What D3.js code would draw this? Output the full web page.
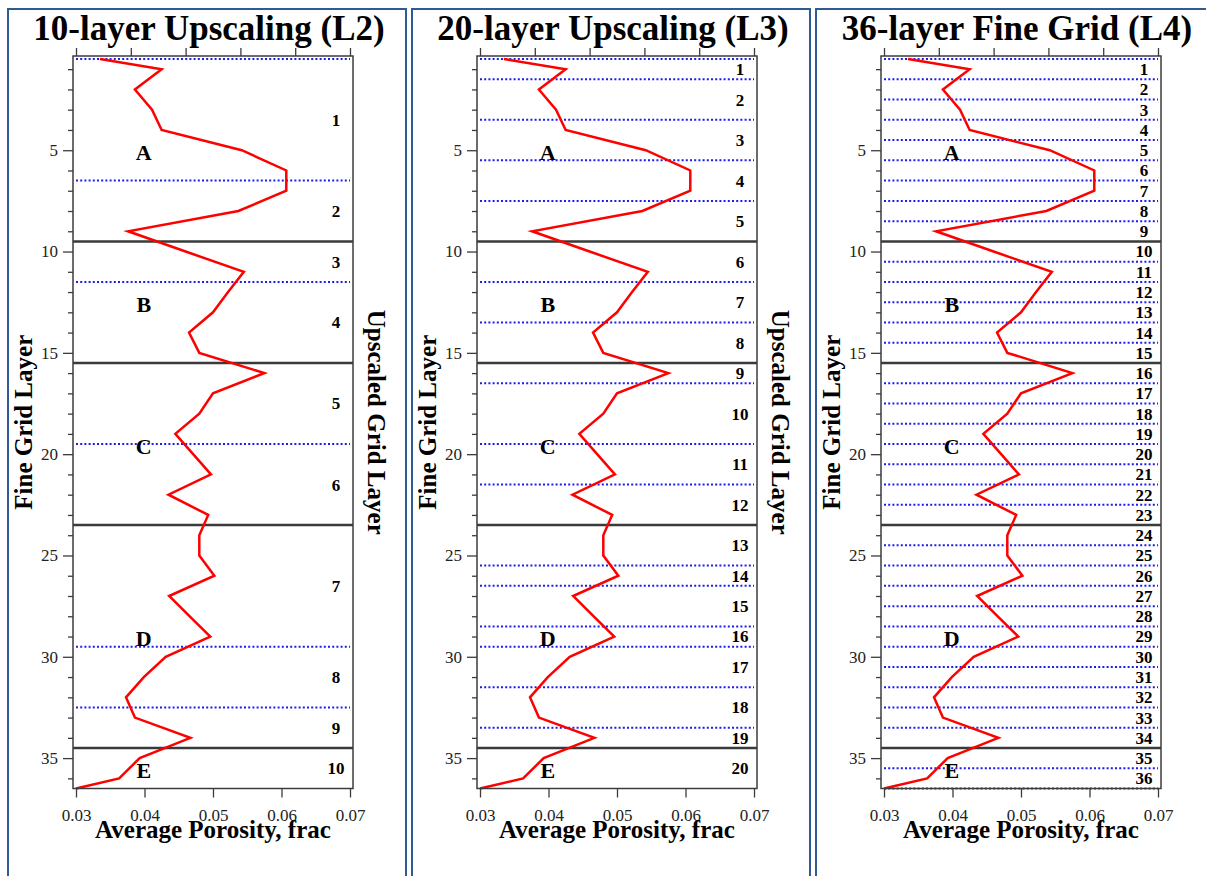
<!DOCTYPE html>
<html>
<head>
<meta charset="utf-8">
<script src="https://cdn.jsdelivr.net/npm/d3@7"></script>
<style>
  body { margin: 0; background: #fff; }
  svg { display: block; font-family: "Liberation Serif", "Times New Roman", serif; }
</style>
</head>
<body>
<svg id="chart" width="1206" height="876"></svg>
<script>
// fine grid layer (depth) and average porosity
const layerDepth = [0.5, 1, 2, 3, 4, 5, 6, 7, 8, 9, 10, 11, 12, 13, 14, 15, 16, 17, 18,
    19, 20, 21, 22, 23, 24, 25, 26, 27, 28, 29, 30, 31, 32, 33, 34, 35, 36, 36.5];
const porosity = [0.0335, 0.0425, 0.0386, 0.0411, 0.0425, 0.0542, 0.0607, 0.0607, 0.0537,
    0.0376, 0.0460, 0.0545, 0.0522, 0.0500, 0.0465, 0.0480, 0.0575, 0.0500, 0.0480,
    0.0445, 0.0471, 0.0497, 0.0435, 0.0493, 0.0480, 0.0480, 0.0502, 0.0436, 0.0466,
    0.0496, 0.0431, 0.0399, 0.0373, 0.0386, 0.0467, 0.0393, 0.0363, 0.0300];

const panelTitles = ["10-layer Upscaling (L2)", "20-layer Upscaling (L3)", "36-layer Fine Grid (L4)"];
// number of fine layers in each upscaled layer
const groups10 = [6, 3, 2, 4, 4, 4, 6, 3, 2, 2];
const groups20 = [1, 2, 2, 2, 2, 2, 2, 2, 1, 3, 2, 2, 2, 1, 2, 1, 2, 2, 1, 2];
const groups36 = [1, 1, 1, 1, 1, 1, 1, 1, 1, 1, 1, 1, 1, 1, 1, 1, 1, 1,
    1, 1, 1, 1, 1, 1, 1, 1, 1, 1, 1, 1, 1, 1, 1, 1, 1, 1];
const panelGroups = [groups10, groups20, groups36];
const showRightTitle = [true, true, false];
const dottedBottom = [false, false, true];

const zoneNames = ["A", "B", "C", "D", "E"];
const zoneLabelDepth = [5.1, 12.6, 19.6, 29.1, 35.6];
const zoneBoundaries = [9.5, 15.5, 23.5, 34.5];

const porosityTicks = [0.03, 0.04, 0.05, 0.06, 0.07];
const topTicks = [0.03, 0.038, 0.046, 0.054, 0.062, 0.07];
const layerTicks = [5, 10, 15, 20, 25, 30, 35];
const layerMinorTicks = [1, 2, 3, 4, 6, 7, 8, 9, 11, 12, 13, 14, 16, 17, 18, 19, 21, 22, 23, 24,
    26, 27, 28, 29, 31, 32, 33, 34, 36];

const svg = d3.select("#chart");
const panelStep = 404;
const frame = { left: 73, right: 353, top: 56, bottom: 788.5 };

const x = d3.scaleLinear().domain([0.03, 0.07]).range([76, 350]);
const y = d3.scaleLinear().domain([0.35, 36.5]).range([frame.top, frame.bottom]);

panelTitles.forEach((title, i) => {
    const g = svg.append("g").attr("transform", `translate(${i * panelStep},0)`);

    // panel border
    g.append("rect")
        .attr("x", 8).attr("y", 9)
        .attr("width", 398).attr("height", 900)
        .attr("fill", "none")
        .attr("stroke", "#2f5a94")
        .attr("stroke-width", 2);

    g.append("text")
        .attr("x", 209).attr("y", 40)
        .attr("text-anchor", "middle")
        .style("font-size", "35px")
        .style("font-weight", "bold")
        .text(title);

    // upscaled layer boundaries
    const groups = panelGroups[i];
    let bounds = [0.5];
    let centers = [];
    let acc = 0.5;
    groups.forEach(n => {
        centers.push(acc + n / 2);
        acc += n;
        bounds.push(acc);
    });
    const dotted = bounds.filter(b => !zoneBoundaries.includes(b) && (b < 36.5 || dottedBottom[i]));

    g.append("g").selectAll("line.dot")
        .data(dotted)
        .join("line")
        .attr("x1", x(0.03)).attr("x2", x(0.07))
        .attr("y1", d => y(d)).attr("y2", d => y(d))
        .attr("stroke", "#1c1cf0")
        .attr("stroke-width", 2)
        .attr("stroke-dasharray", "2,2.2");

    g.append("g").selectAll("line.zone")
        .data(zoneBoundaries)
        .join("line")
        .attr("x1", frame.left).attr("x2", frame.right)
        .attr("y1", d => y(d)).attr("y2", d => y(d))
        .attr("stroke", "#3a3a3a")
        .attr("stroke-width", 2.5);

    // upscaled layer numbers
    g.append("g").selectAll("text")
        .data(centers)
        .join("text")
        .attr("x", 336)
        .attr("y", d => y(d))
        .attr("dy", "0.35em")
        .attr("text-anchor", "middle")
        .style("font-size", "17px")
        .style("font-weight", "bold")
        .text((d, k) => k + 1);

    // zone letters
    g.append("g").selectAll("text")
        .data(zoneNames)
        .join("text")
        .attr("x", x(0.0399))
        .attr("y", (d, k) => y(zoneLabelDepth[k]))
        .attr("dy", "0.35em")
        .attr("text-anchor", "middle")
        .style("font-size", "22px")
        .style("font-weight", "bold")
        .text(d => d);

    // porosity curve
    g.append("path")
        .datum(layerDepth.map((d, k) => [porosity[k], d]))
        .attr("fill", "none")
        .attr("stroke", "#ff0000")
        .attr("stroke-width", 2.5)
        .attr("stroke-linejoin", "miter")
        .attr("d", d3.line().x(d => x(d[0])).y(d => y(d[1])));

    // frame
    g.append("rect")
        .attr("x", frame.left).attr("y", frame.top)
        .attr("width", frame.right - frame.left)
        .attr("height", frame.bottom - frame.top)
        .attr("fill", "none")
        .attr("stroke", "#3c3c3c")
        .attr("stroke-width", 1.5);

    // axes
    const bottomAxis = g.append("g")
        .attr("transform", `translate(0,${frame.bottom})`)
        .call(d3.axisBottom(x).tickValues(porosityTicks).tickFormat(d3.format(".2f"))
            .tickSize(9).tickPadding(11));
    const topAxis = g.append("g")
        .attr("transform", `translate(0,${frame.top})`)
        .call(d3.axisTop(x).tickValues(topTicks).tickFormat("").tickSize(8));
    const leftAxis = g.append("g")
        .attr("transform", `translate(${frame.left},0)`)
        .call(d3.axisLeft(y).tickValues(layerTicks).tickSize(10).tickPadding(5));
    const leftMinor = g.append("g")
        .attr("transform", `translate(${frame.left},0)`)
        .call(d3.axisLeft(y).tickValues(layerMinorTicks).tickFormat("").tickSize(5));

    [bottomAxis, topAxis, leftAxis, leftMinor].forEach(a => {
        a.select(".domain").remove();
        a.selectAll("line").attr("stroke", "#3c3c3c").attr("stroke-width", 1.3);
        a.selectAll("text")
            .attr("fill", "#222")
            .style("font-family", "'Liberation Serif', 'Times New Roman', serif")
            .style("font-size", "17px");
    });

    // axis titles
    g.append("text")
        .attr("x", (x(0.03) + x(0.07)) / 2).attr("y", 838)
        .attr("text-anchor", "middle")
        .style("font-size", "25px")
        .style("font-weight", "bold")
        .text("Average Porosity, frac");

    g.append("text")
        .attr("transform", `translate(32,${(frame.top + frame.bottom) / 2}) rotate(-90)`)
        .attr("text-anchor", "middle")
        .style("font-size", "25px")
        .style("font-weight", "bold")
        .text("Fine Grid Layer");

    if (showRightTitle[i]) {
        g.append("text")
            .attr("transform", `translate(368,${(frame.top + frame.bottom) / 2}) rotate(90)`)
            .attr("text-anchor", "middle")
            .style("font-size", "25px")
            .style("font-weight", "bold")
            .text("Upscaled Grid Layer");
    }
});
</script>
</body>
</html>
